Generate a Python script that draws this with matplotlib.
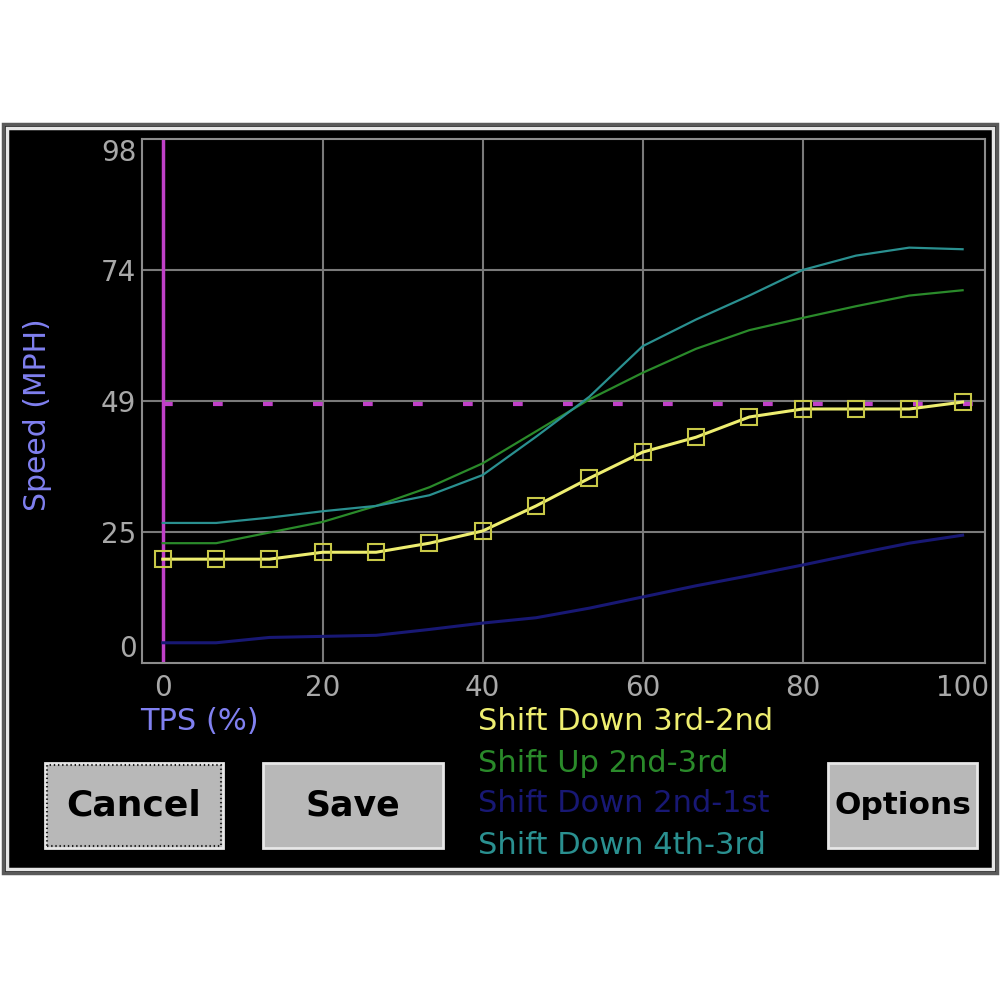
import matplotlib
matplotlib.use('agg')

import matplotlib.pyplot as plt
from matplotlib.patches import Rectangle

plt.rcParams['font.family'] = ['DejaVu Sans']
plt.rcParams['lines.scale_dashes'] = False

# TPS (%) sample points shared by every curve
tps = [0, 6.67, 13.33, 20, 26.67, 33.33, 40, 46.67, 53.33, 60, 66.67, 73.33, 80, 86.67, 93.33, 100]

shift_down_3_2 = [19.5, 19.5, 19.5, 20.8, 20.8, 22.5, 24.8, 29.5, 34.7, 39.6, 42.4, 46.2, 47.7, 47.7, 47.7, 49.0]
shift_up_2_3 = [22.5, 22.5, 24.5, 26.5, 29.5, 33.0, 37.5, 43.5, 49.5, 54.5, 59.0, 62.5, 64.8, 67.0, 69.0, 70.0]
shift_down_2_1 = [3.8, 3.8, 4.8, 5.0, 5.2, 6.3, 7.5, 8.5, 10.3, 12.4, 14.5, 16.4, 18.4, 20.5, 22.5, 24.0]
shift_down_4_3 = [26.3, 26.3, 27.3, 28.5, 29.5, 31.5, 35.3, 42.5, 50.0, 59.5, 64.5, 69.0, 73.8, 76.5, 78.0, 77.7]

series_names = ["Shift Down 3rd-2nd", "Shift Up 2nd-3rd", "Shift Down 2nd-1st", "Shift Down 4th-3rd"]
series_colors = ["#eeee70", "#2a8a2a", "#181874", "#2a9090"]

x_ticks = [0, 20, 40, 60, 80, 100]
y_ticks = [0, 24.6, 49.2, 73.8, 98.4]
y_tick_labels = ["0", "25", "49", "74", "98"]
grid_x = [20, 40, 60, 80]
grid_y = [24.6, 49.2, 73.8]
cursor_tps = 0
cursor_speed = 48.6

buttons = ["Cancel", "Save", "Options"]

fig = plt.figure(figsize=(10, 10), dpi=100)
fig.patch.set_facecolor("white")

# black screen panel with border
fig.patches.append(Rectangle((0.003, 0.127), 0.994, 0.749, transform=fig.transFigure,
                             facecolor="black", edgecolor="#5a5a5a", linewidth=2.5, zorder=-2))
fig.patches.append(Rectangle((0.007, 0.131), 0.986, 0.741, transform=fig.transFigure,
                             facecolor="none", edgecolor="#e6e6e6", linewidth=2.5, zorder=-1))

ax = fig.add_axes([0.142, 0.337, 0.843, 0.524])
ax.set_facecolor("black")
ax.set_xlim(-2.6, 102.8)
ax.set_ylim(0, 98.4)

for s in ax.spines.values():
    s.set_color("#8c8c8c")
    s.set_linewidth(1.5)

for gx in grid_x:
    ax.axvline(gx, color="#7a7a7a", linewidth=1.5, zorder=1)
for gy in grid_y:
    ax.axhline(gy, color="#7a7a7a", linewidth=1.5, zorder=1)

ax.set_xticks(x_ticks)
ax.set_xticklabels([str(v) for v in x_ticks])
ax.set_yticks(y_ticks)
ax.set_yticklabels(y_tick_labels)
ax.tick_params(length=0, colors="#a8a8a8", labelsize=20, pad=8)
ax.tick_params(axis="y", pad=4)
ylabs = ax.get_yticklabels()
ylabs[0].set_va("bottom")
ylabs[-1].set_va("top")

# cursor lines
ax.axvline(cursor_tps, color="#c040c8", linewidth=2.5, zorder=2)
ax.axhline(cursor_speed, xmin=(cursor_tps + 2.6) / 105.4, color="#c040c8", linewidth=3,
           dashes=(7, 29), zorder=2)

ax.plot(tps, shift_down_2_1, color=series_colors[2], linewidth=2.2, zorder=3)
ax.plot(tps, shift_up_2_3, color=series_colors[1], linewidth=1.6, zorder=3)
ax.plot(tps, shift_down_4_3, color=series_colors[3], linewidth=1.6, zorder=3)
ax.plot(tps, shift_down_3_2, color=series_colors[0], linewidth=2.2, marker="s", markersize=12,
        markerfacecolor="none", markeredgecolor="#c8c848", markeredgewidth=1.5, zorder=4)

fig.text(0.038, 0.585, "Speed (MPH)", rotation=90, color="#8080f0", fontsize=21.5,
         ha="center", va="center")
fig.text(0.140, 0.279, "TPS (%)", color="#8080f0", fontsize=22, ha="left", va="center")

legend_y = [0.279, 0.237, 0.196, 0.155]
for name, col, ly in zip(series_names, series_colors, legend_y):
    fig.text(0.478, ly, name, color=col, fontsize=22, ha="left", va="center")

# buttons
btn_boxes = [(0.045, 0.152, 0.178, 0.085), (0.263, 0.152, 0.180, 0.085), (0.828, 0.152, 0.149, 0.085)]
btn_sizes = [26, 25, 22.5]
for label, (bx, by, bw, bh), fs in zip(buttons, btn_boxes, btn_sizes):
    fig.patches.append(Rectangle((bx, by), bw, bh, transform=fig.transFigure,
                                 facecolor="#b8b8b8", edgecolor="#e8e8e8", linewidth=2, zorder=1))
    fig.text(bx + bw / 2, by + bh / 2, label, color="black", fontsize=fs, fontweight="bold",
             ha="center", va="center")
bx, by, bw, bh = btn_boxes[0]
fig.patches.append(Rectangle((bx + 0.002, by + 0.002), bw - 0.004, bh - 0.004, transform=fig.transFigure,
                             facecolor="none", edgecolor="#202020", linewidth=1.5,
                             linestyle=(0, (1, 2)), zorder=2))

fig.savefig("out.png", dpi=100, facecolor="white")
